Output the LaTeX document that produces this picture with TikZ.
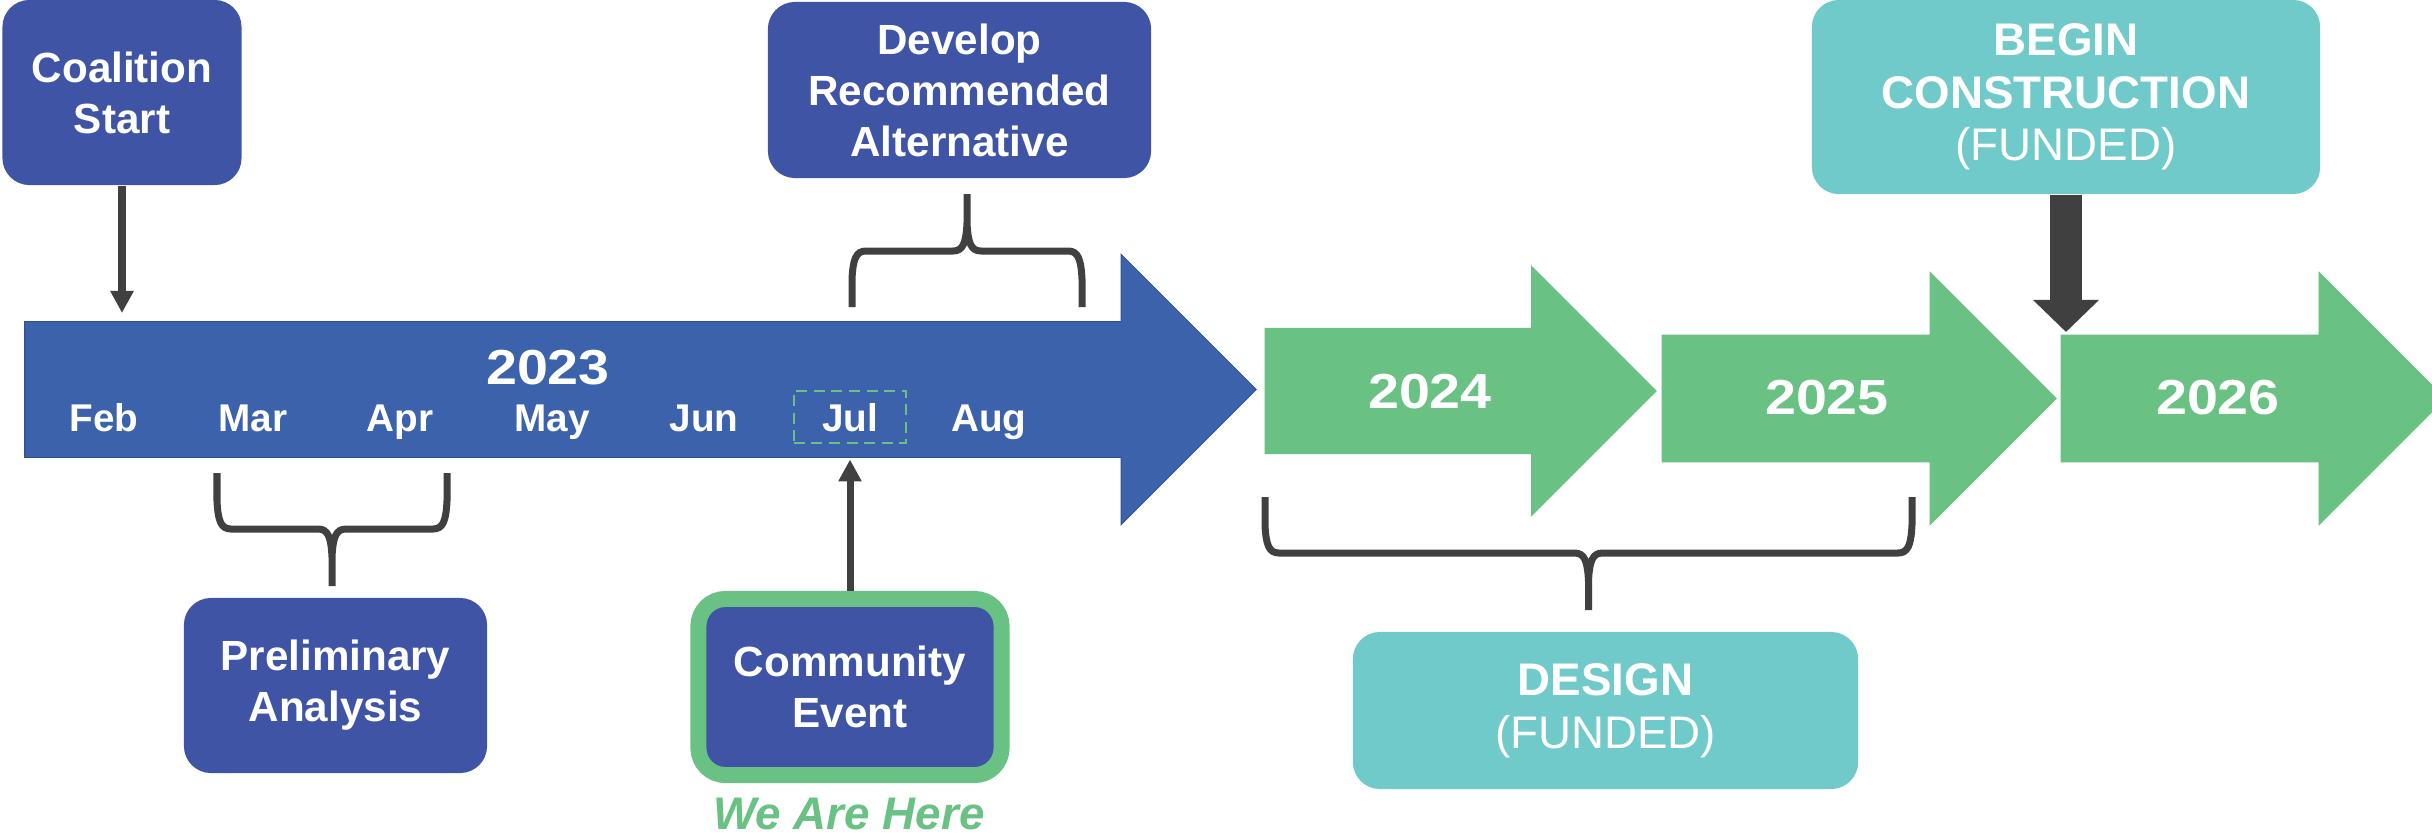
\documentclass[tikz,border=0pt]{standalone}
\usepackage{fontspec}
\setmainfont{Liberation Sans}
\newfontfamily\yearfont{Liberation Sans}[FakeStretch=1.13]
\usetikzlibrary{shapes.arrows, arrows.meta}
\definecolor{boxblue}{RGB}{63, 84, 165}
\definecolor{arrowblue}{RGB}{60, 98, 172}
\definecolor{edgeblue}{RGB}{47, 82, 143}
\definecolor{green}{RGB}{105, 193, 131}
\definecolor{teal}{RGB}{112, 202, 202}
\definecolor{darkgray}{RGB}{64, 64, 64}
\newcommand{\yeararrow}[5][fill=green]{
  \node[single arrow, #1, anchor=tail, inner xsep=0, inner ysep=0.25*#5cm, minimum height=#4cm, minimum width=#5cm, single arrow head extend=0.25*#5cm] (#2) at (#3) {};
}
\newcommand{\timebrace}[4]{
  \pgfmathsetmacro{\bracemid}{(#1+#2)/2}
  \draw[bracket, shift={(0,#3)}, yscale=#4]
    (#1,0) -- (#1,-28) .. controls (#1+1,-48) and (#1+4,-56) .. (#1+14,-56) -- (\bracemid-14,-56)
    .. controls (\bracemid-4,-56) and (\bracemid-1,-64) .. (\bracemid,-84) -- (\bracemid,-113)
    (#2,0) -- (#2,-28) .. controls (#2-1,-48) and (#2-4,-56) .. (#2-14,-56) -- (\bracemid+14,-56)
    .. controls (\bracemid+4,-56) and (\bracemid+1,-64) .. (\bracemid,-84);
}

\begin{document}
\begin{tikzpicture}[x=0.01cm, y=-0.01cm,
    box/.style={rectangle, rounded corners=0.27cm, fill=boxblue, text=white, align=center, inner sep=0, font=\bfseries\fontsize{12}{14.5}\selectfont},
    fundbox/.style={box, fill=teal, font=\fontsize{13}{15}\selectfont},
    link/.style={draw=darkgray, line width=0.07cm, -{Triangle[width=0.22cm, length=0.22cm]}},
    biglink/.style={draw=darkgray, line width=0.32cm, -{Triangle[width=0.64cm, length=0.32cm]}},
    bracket/.style={draw=darkgray, line width=0.07cm},
    month/.style={anchor=base, text=white, font=\bfseries\fontsize{11}{13}\selectfont},
    year/.style={anchor=base, text=white, font=\yearfont\bfseries\fontsize{14}{17}\selectfont}]
  \useasboundingbox (0,0) rectangle (2432,836);

  \yeararrow[fill=arrowblue, draw=edgeblue, line width=0.01cm]{y23}{24,389.5}{12.31}{2.69}
  \yeararrow{y24}{1264,391}{3.92}{2.50}
  \yeararrow{y25}{1661,398.5}{3.95}{2.53}
  \yeararrow{y26}{2060,398.5}{3.85}{2.53}

  \node[year] (l23) at (548,384) {2023};
  \node[year] (l24) at (1430,408) {2024};
  \node[year] (l25) at (1827,414) {2025};
  \node[year] (l26) at (2218,414) {2026};

  \node[month] (feb) at (104,431) {Feb};  \node[month] (mar) at (253,431) {Mar};  \node[month] (apr) at (400,431) {Apr};
  \node[month] (may) at (552,431) {May};  \node[month] (jun) at (704,431) {Jun};  \node[month] (aug) at (989,431) {Aug};
  \node[month, draw=green, line width=0.025cm, dash pattern=on 0.11cm off 0.065cm, minimum width=1.12cm, minimum height=0.52cm] (jul) at (850,431) {Jul};

  \node[box, minimum width=2.39cm, minimum height=1.85cm] (start) at (122,92.5) {Coalition\\Start};
  \node[box, minimum width=3.83cm, minimum height=1.76cm] (develop) at (959.5,90) {Develop\\Recommended\\Alternative};
  \node[box, minimum width=3.03cm, minimum height=1.75cm] (prelim) at (335.5,685.5) {Preliminary\\Analysis};
  \node[box, draw=green, line width=0.16cm, minimum width=3.03cm, minimum height=1.76cm] (event) at (850,687) {Community\\Event};
  \node[anchor=base, text=green, font=\bfseries\itshape\fontsize{13}{15}\selectfont] (here) at (849,829) {We Are Here};
  \node[fundbox, minimum width=5.08cm, minimum height=1.94cm] (build) at (2066,97) {\textbf{BEGIN}\\\textbf{CONSTRUCTION}\\(FUNDED)};
  \node[fundbox, minimum width=5.05cm, minimum height=1.57cm] (design) at (1605.5,710.5) {\textbf{DESIGN}\\(FUNDED)};

  \coordinate (start end) at (122,313);
  \coordinate (build end) at (2066,332);
  \draw[link] (start) -- (start end);
  \draw[link, shorten >=0.15cm] (event) -- (jul);
  \draw[biglink] (build) -- (build end);

  \timebrace{217}{447}{473}{-1}
  \timebrace{852}{1082}{307}{1}
  \timebrace{1265}{1912}{497}{-1}
\end{tikzpicture}
\end{document}
